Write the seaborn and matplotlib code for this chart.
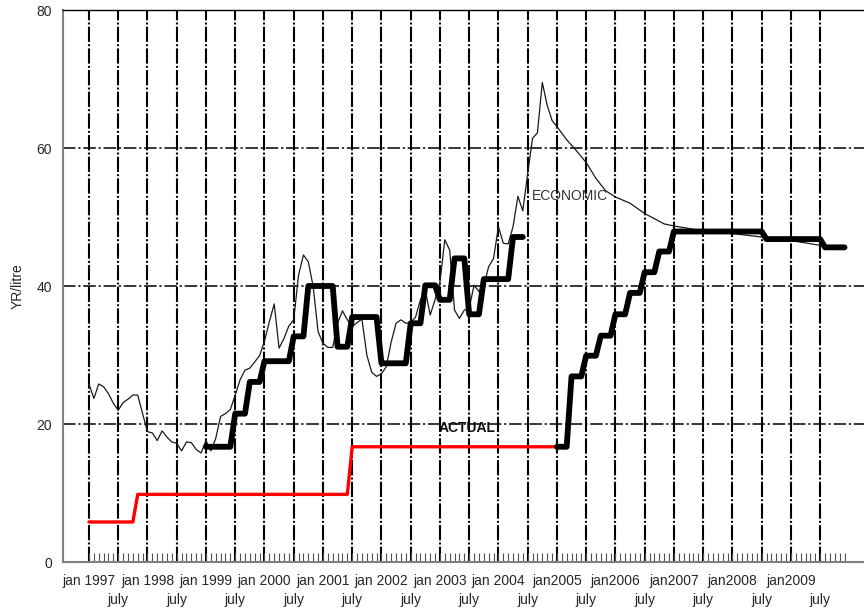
import matplotlib
matplotlib.use("Agg")
import matplotlib.pyplot as plt
import seaborn as sns

# Month index: 0 = January 1997, 12 = January 1998, ...
econ_months = list(range(0, 97)) + [98, 100, 102, 104, 106, 108, 111, 114, 118,
                                    120, 125, 132, 138, 143, 150, 155]
econ_values = [
    25.8, 23.7, 25.8, 25.4, 24.4, 23.0, 22.0, 23.1, 23.6, 24.2, 24.2, 21.5,   # 1997
    18.9, 18.7, 17.6, 19.0, 18.1, 17.4, 17.2, 16.1, 17.4, 17.3, 16.3, 15.8,   # 1998
    17.6, 16.1, 17.9, 21.1, 21.5, 22.1, 24.2, 26.4, 27.8, 28.1, 29.0, 29.9,   # 1999
    32.0, 34.8, 37.4, 31.0, 32.4, 34.2, 35.1, 41.6, 44.5, 43.5, 39.9, 33.4,   # 2000
    31.7, 31.1, 31.1, 34.6, 36.4, 35.1, 34.1, 34.7, 35.2, 30.0, 27.5, 26.9,   # 2001
    27.3, 28.3, 31.9, 34.6, 35.1, 34.6, 34.7, 35.5, 38.0, 39.4, 35.8, 38.0,   # 2002
    40.6, 46.7, 45.2, 36.5, 35.3, 36.5, 36.8, 40.1, 39.2, 40.1, 42.8, 44.0,   # 2003
    48.6, 46.2, 46.1, 48.6, 53.0, 50.9, 56.3, 61.4, 62.2, 69.5, 66.2, 64.0,   # 2004
    63.1,                                                                     # jan 2005
    61.2, 59.6, 57.9, 55.6, 53.8, 52.9, 52.0, 50.5, 49.0,
    48.7, 48.1, 47.6, 47.1, 46.7, 45.9, 45.5,
]

actual_months = list(range(0, 97))
actual_values = [5.8] * 10 + [9.8] * 44 + [16.7] * 43

path_a_months = list(range(24, 90))
path_a_values = ([16.7] * 6 + [21.5] * 3 + [26.1] * 3 + [29.1] * 6 + [32.7] * 3 +
                 [40.0] * 6 + [31.2] * 3 + [35.5] * 6 + [28.8] * 6 + [34.6] * 3 +
                 [40.1] * 3 + [38.0] * 3 + [44.0] * 3 + [35.9] * 3 + [41.0] * 6 +
                 [47.1] * 3)

path_b_months = list(range(96, 156))
path_b_values = ([16.7] * 3 + [26.9] * 3 + [29.9] * 3 + [32.8] * 3 + [35.9] * 3 +
                 [39.0] * 3 + [42.0] * 3 + [45.0] * 3 + [47.9] * 19 + [46.8] * 12 +
                 [45.6] * 5)

jan_labels = ["jan 1997", "jan 1998", "jan 1999", "jan 2000", "jan 2001",
              "jan 2002", "jan 2003", "jan 2004", "jan2005", "jan2006",
              "jan2007", "jan2008", "jan2009"]
july_label = "july"
y_ticks = [0, 20, 40, 60, 80]

sns.set_style("white")
plt.rcParams["font.family"] = ["Liberation Sans", "DejaVu Sans"]
plt.rcParams["lines.scale_dashes"] = False

fig = plt.figure(figsize=(8.64, 6.08), dpi=100)
W, H = 864, 608
ax = fig.add_axes([63 / W, 1 - 562 / H, (W - 63) / W, (562 - 10) / H])

dashdot_v = (0, (11, 1.6, 1.4, 1.6))
dashdot_h = (0, (9, 2.0, 1.6, 2.0))

# horizontal grid at the inner y ticks
for v in y_ticks[1:-1]:
    ax.axhline(v, color="black", lw=1.1, ls=dashdot_h, zorder=1)

sns.lineplot(x=econ_months, y=econ_values, ax=ax, color="#1a1a1a", lw=0.9,
             estimator=None, sort=False, zorder=3)
sns.lineplot(x=actual_months, y=actual_values, ax=ax, color="#ff0000", lw=2.4,
             estimator=None, sort=False, zorder=4)
sns.lineplot(x=path_a_months, y=path_a_values, ax=ax, color="black", lw=4.2,
             estimator=None, sort=False, zorder=5)
sns.lineplot(x=path_b_months, y=path_b_values, ax=ax, color="black", lw=4.2,
             estimator=None, sort=False, zorder=5)

ax.set_xlim(-5.33, 159.0)
ax.set_ylim(0, 80)

# half-year ticks carry the vertical grid; january labels on the first row
half_year = list(range(0, 151, 6))
jan_months = half_year[0::2]
july_months = half_year[1::2]
labels = [jan_labels[i // 2] if m % 12 == 0 else "" for i, m in enumerate(half_year)]
ax.set_xticks(half_year, labels)
ax.set_xticks(list(range(0, 156)), minor=True)
ax.grid(axis="x", which="major", color="black", lw=1.5, ls=dashdot_v)
ax.grid(axis="y", visible=False)
ax.set_axisbelow(True)

ax.tick_params(axis="x", which="both", direction="in", length=6.5, width=0.8,
               color="#505050", labelsize=10, pad=9, bottom=True)
ax.set_yticks(y_ticks)
ax.tick_params(axis="y", length=0, labelsize=10, pad=8)

# july labels on a second row
sec = ax.secondary_xaxis("bottom")
sec.set_xticks(july_months, [july_label] * len(july_months))
sec.tick_params(axis="x", length=0, labelsize=10, pad=22)
sec.spines["bottom"].set_visible(False)

ax.set_ylabel("YR/litre", fontsize=10, labelpad=8)
ax.set_xlabel("")

for side in ["left", "bottom"]:
    ax.spines[side].set_color("#808080")
    ax.spines[side].set_linewidth(1.5)
ax.spines["top"].set_color("black")
ax.spines["top"].set_linewidth(1.0)
ax.spines["right"].set_visible(False)

ax.text(90.9, 53.0, "ECONOMIC", fontsize=10, color="#333333",
        ha="left", va="center", zorder=6)
ax.text(77.5, 19.4, "ACTUAL", fontsize=10, fontweight="bold", color="#111111",
        ha="center", va="center", zorder=6)

fig.savefig("out.png", dpi=100)
